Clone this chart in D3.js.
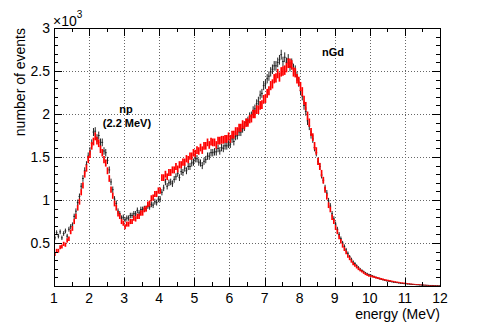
<!DOCTYPE html>
<html>
<head>
<meta charset="utf-8">
<script src="https://cdn.jsdelivr.net/npm/d3@7"></script>
<style>
body { margin: 0; background: #fff; }
text { font-family: "Liberation Sans", Arial, Helvetica, sans-serif; }
</style>
</head>
<body>
<div id="vis"></div>
<script>
var h = 326, w = 483; //size of the svg

//energy binning (MeV), 0.05 MeV bins from 1 to 12
var binWidth = 0.05;
var energyMin = 1, energyMax = 12;

//black histogram (data), one value per bin
var blackCounts = [
  560, 620, 580, 630, 560, 610, 640, 580, 660, 690, 710, 810, 870, 970, 1040, 1160, 1250, 1340, 1410, 1510,
  1570, 1660, 1790, 1800, 1720, 1750, 1670, 1670, 1570, 1550, 1460, 1350, 1210, 1120, 1010, 960, 870, 840, 790, 800,
  770, 790, 790, 820, 820, 840, 840, 880, 850, 890, 890, 900, 900, 930, 920, 950, 940, 980, 970, 1010,
  1010, 1090, 1140, 1210, 1160, 1200, 1210, 1190, 1240, 1270, 1310, 1260, 1330, 1320, 1370, 1340, 1390, 1390, 1430, 1440,
  1480, 1480, 1440, 1430, 1400, 1450, 1470, 1510, 1510, 1550, 1550, 1560, 1560, 1600, 1570, 1610, 1600, 1630, 1630, 1650,
  1650, 1710, 1680, 1740, 1750, 1790, 1790, 1830, 1850, 1900, 1920, 1970, 1980, 2040, 2060, 2120, 2150, 2220, 2240, 2330,
  2350, 2410, 2440, 2490, 2520, 2560, 2560, 2600, 2630, 2690, 2610, 2660, 2600, 2640, 2550, 2590, 2530, 2510, 2440, 2370,
  2270, 2210, 2100, 2030, 1920, 1860, 1760, 1710, 1610, 1550, 1450, 1390, 1290, 1230, 1140, 1080, 990, 930, 840, 780,
  720, 660, 600, 550, 500, 460, 420, 380, 340, 310, 280, 260, 235, 215, 195, 180, 165, 150, 140, 130,
  125, 115, 108, 100, 92, 86, 80, 74, 68, 62, 58, 54, 50, 46, 42, 40, 36, 33, 30, 28,
  26, 24, 22, 20, 18, 17, 15, 14, 12, 11, 10, 9, 8, 7, 6, 6, 5, 4, 4, 3
];

//red histogram (simulation), one value per bin
var redCounts = [
  370, 410, 410, 450, 460, 490, 480, 530, 550, 630, 670, 750, 810, 910, 980, 1090, 1170, 1300, 1370, 1470,
  1530, 1630, 1680, 1740, 1690, 1660, 1590, 1550, 1470, 1430, 1340, 1250, 1120, 1050, 960, 910, 840, 810, 750, 730,
  690, 720, 720, 750, 750, 790, 780, 810, 810, 850, 850, 890, 900, 950, 960, 1020, 1030, 1070, 1070, 1110,
  1110, 1260, 1260, 1300, 1270, 1320, 1320, 1350, 1350, 1390, 1360, 1410, 1410, 1440, 1440, 1480, 1470, 1510, 1510, 1550,
  1540, 1580, 1570, 1610, 1580, 1630, 1630, 1670, 1640, 1680, 1670, 1670, 1640, 1690, 1690, 1700, 1700, 1710, 1710, 1740,
  1710, 1760, 1760, 1800, 1800, 1840, 1840, 1880, 1870, 1900, 1900, 1940, 1950, 2000, 2000, 2050, 2050, 2100, 2110, 2170,
  2180, 2240, 2270, 2330, 2350, 2410, 2420, 2470, 2430, 2490, 2500, 2510, 2540, 2590, 2590, 2570, 2490, 2480, 2410, 2380,
  2320, 2260, 2160, 2090, 1980, 1900, 1790, 1730, 1630, 1570, 1450, 1390, 1310, 1230, 1120, 1040, 940, 890, 800, 750,
  680, 630, 570, 520, 470, 430, 390, 350, 320, 290, 260, 240, 220, 200, 185, 170, 155, 140, 130, 120,
  115, 110, 104, 98, 94, 88, 83, 78, 72, 68, 64, 60, 56, 52, 48, 45, 42, 38, 36, 33,
  31, 28, 26, 24, 22, 20, 18, 16, 15, 13, 12, 11, 10, 9, 8, 7, 6, 5, 5, 4
];

//tick labels
var xTickValues = [1, 2, 3, 4, 5, 6, 7, 8, 9, 10, 11, 12];
var yTickValues = [500, 1000, 1500, 2000, 2500, 3000];
var yTickLabels = ["0.5", "1", "1.5", "2", "2.5", "3"];

//text labels on the plot
var peakLabels = [
  {text: "np", e: 3.05, v: 2010},
  {text: "(2.2 MeV)", e: 3.08, v: 1850},
  {text: "nGd", e: 8.95, v: 2680}
];

var plotLeft = 54, plotRight = 440, plotTop = 28, plotBottom = 286;

var xScale = d3.scaleLinear()
               .domain([energyMin, energyMax])
               .range([plotLeft, plotRight]);

var yScale = d3.scaleLinear()
               .domain([0, 3000])
               .range([plotBottom, plotTop]);

var svg = d3.select("#vis")
            .append("svg")
            .attr("width", w)
            .attr("height", h);

svg.append("rect")
   .attr("width", w)
   .attr("height", h)
   .attr("fill", "#fff");

//dotted grid
svg.append("g")
   .selectAll("line")
   .data(xTickValues.slice(1, -1))
   .enter()
   .append("line")
   .attr("x1", function(d){ return Math.round(xScale(d)) + 0.5; })
   .attr("x2", function(d){ return Math.round(xScale(d)) + 0.5; })
   .attr("y1", plotTop)
   .attr("y2", plotBottom)
   .attr("stroke", "#666")
   .attr("stroke-dasharray", "1,2");

svg.append("g")
   .selectAll("line")
   .data(yTickValues.slice(0, -1))
   .enter()
   .append("line")
   .attr("y1", function(d){ return Math.round(yScale(d)) + 0.5; })
   .attr("y2", function(d){ return Math.round(yScale(d)) + 0.5; })
   .attr("x1", plotLeft)
   .attr("x2", plotRight)
   .attr("stroke", "#666")
   .attr("stroke-dasharray", "1,2");

//histograms, drawn as error crosses
var plot = svg.append("g");

function drawHist(counts, colour, width, withBin) {
  var bins = counts.map(function(v, i){
    return {lo: energyMin + i * binWidth, hi: energyMin + (i + 1) * binWidth, v: v};
  });
  var g = plot.append("g")
              .attr("stroke", colour);
  //vertical error bars
  g.selectAll("line.err")
   .data(bins)
   .enter()
   .append("line")
   .attr("class", "err")
   .attr("x1", function(d){ return xScale((d.lo + d.hi) / 2); })
   .attr("x2", function(d){ return xScale((d.lo + d.hi) / 2); })
   .attr("y1", function(d){ return yScale(d.v + Math.sqrt(d.v) * 1.1); })
   .attr("y2", function(d){ return Math.min(plotBottom, yScale(d.v - Math.sqrt(d.v) * 1.1)); })
   .attr("stroke-width", width);
  //horizontal bin width bars
  if (withBin) {
    g.selectAll("line.bin")
     .data(bins)
     .enter()
     .append("line")
     .attr("class", "bin")
     .attr("x1", function(d){ return xScale(d.lo); })
     .attr("x2", function(d){ return xScale(d.hi); })
     .attr("y1", function(d){ return yScale(d.v); })
     .attr("y2", function(d){ return yScale(d.v); })
     .attr("stroke-width", 1);
  }
}

drawHist(blackCounts, "#222", 1, true);
drawHist(redCounts, "#f00", 1.7, false);

//frame
svg.append("rect")
   .attr("x", plotLeft + 0.5)
   .attr("y", plotTop + 0.5)
   .attr("width", plotRight - plotLeft)
   .attr("height", plotBottom - plotTop)
   .attr("fill", "none")
   .attr("stroke", "#000");

//ticks on all four sides, pointing inwards
var xMinor = d3.range(1.5, 12, 1);
var yMinor = d3.range(100, 3000, 100).filter(function(d){ return d % 500 != 0; });
var ticks = svg.append("g").attr("stroke", "#000");

xTickValues.concat(xMinor).forEach(function(d){
  var len = xMinor.indexOf(d) >= 0 ? 4 : 8;
  var x = Math.round(xScale(d)) + 0.5;
  ticks.append("line").attr("x1", x).attr("x2", x).attr("y1", plotBottom).attr("y2", plotBottom - len);
  ticks.append("line").attr("x1", x).attr("x2", x).attr("y1", plotTop).attr("y2", plotTop + len);
});

yTickValues.concat(yMinor).forEach(function(d){
  var len = yMinor.indexOf(d) >= 0 ? 4 : 8;
  var y = Math.round(yScale(d)) + 0.5;
  ticks.append("line").attr("y1", y).attr("y2", y).attr("x1", plotLeft).attr("x2", plotLeft + len);
  ticks.append("line").attr("y1", y).attr("y2", y).attr("x1", plotRight).attr("x2", plotRight - len);
});

//tick labels
svg.append("g")
   .selectAll("text")
   .data(xTickValues)
   .enter()
   .append("text")
   .attr("x", function(d){ return xScale(d); })
   .attr("y", 303)
   .attr("text-anchor", "middle")
   .attr("font-size", 14)
   .text(function(d){ return d; });

svg.append("g")
   .selectAll("text")
   .data(yTickValues)
   .enter()
   .append("text")
   .attr("x", 50)
   .attr("y", function(d){ return yScale(d) + 5; })
   .attr("text-anchor", "end")
   .attr("font-size", 14)
   .text(function(d, i){ return yTickLabels[i]; });

//exponent of the y axis
var expo = svg.append("text")
              .attr("x", 53)
              .attr("y", 26)
              .attr("font-size", 14);
expo.append("tspan").text("\u00d710");
expo.append("tspan").attr("dy", -8).attr("font-size", 10).text("3");

//axis titles
svg.append("text")
   .attr("x", plotRight)
   .attr("y", 319)
   .attr("text-anchor", "end")
   .attr("font-size", 14)
   .text("energy (MeV)");

svg.append("text")
   .attr("transform", "translate(25," + plotTop + ") rotate(-90)")
   .attr("text-anchor", "end")
   .attr("font-size", 14)
   .text("number of events");

//peak labels
svg.append("g")
   .selectAll("text")
   .data(peakLabels)
   .enter()
   .append("text")
   .attr("x", function(d){ return xScale(d.e); })
   .attr("y", function(d){ return yScale(d.v); })
   .attr("text-anchor", "middle")
   .attr("font-size", 11)
   .attr("font-weight", "bold")
   .text(function(d){ return d.text; });
</script>
</body>
</html>
